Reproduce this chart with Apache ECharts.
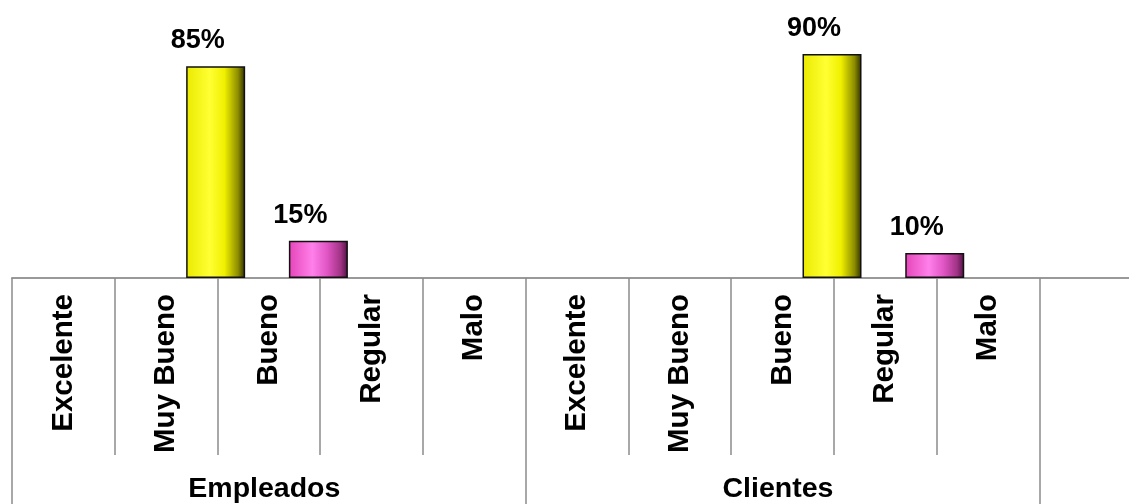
<!DOCTYPE html>
<html>
<head>
<meta charset="utf-8">
<script src="https://cdn.jsdelivr.net/npm/echarts@6/dist/echarts.min.js"></script>
<style>html,body{margin:0;padding:0;background:#fff;overflow:hidden;width:1129px;height:504px;}#c{width:1142px;height:504px;}</style>
</head>
<body>
<div id="c"></div>
<script>
var ratings = ['Excelente', 'Muy Bueno', 'Bueno', 'Regular', 'Malo'];
var groups = ['Empleados', 'Clientes'];
var categories = ratings.concat(ratings).concat(['']);
var yellowValues = [null, 85, null, null, null, null, null, 90, null, null, null];
var pinkValues = [null, null, 15, null, null, null, null, null, 10, null, null];

var groupSlots = categories.map(function (c, i) {
  if (i === 2) return groups[0];
  if (i === 7) return groups[1];
  return '';
});

var yellowGrad = new echarts.graphic.LinearGradient(0, 0, 1, 0, [
  {offset: 0, color: '#eaea00'}, {offset: 0.4, color: '#ffff33'},
  {offset: 0.65, color: '#f0f000'}, {offset: 0.88, color: '#8c8c00'}, {offset: 1, color: '#2e2e00'}
]);
var pinkGrad = new echarts.graphic.LinearGradient(0, 0, 1, 0, [
  {offset: 0, color: '#e545b8'}, {offset: 0.4, color: '#ff80ea'},
  {offset: 0.65, color: '#e055c4'}, {offset: 0.88, color: '#a03384'}, {offset: 1, color: '#4c1042'}
]);

var font = 'Liberation Sans, Arial, sans-serif';
var labelCfg = {
  show: true, position: 'top', distance: 12, offset: [-18, 0],
  fontSize: 27, fontWeight: 'bold', color: '#000', fontFamily: font,
  formatter: function (p) { return p.value + '%'; }
};

var chart = echarts.init(document.getElementById('c'));
chart.setOption({
  animation: false,
  grid: {left: 12, right: 0, top: 29, bottom: 225, containLabel: false},
  xAxis: [{
    type: 'category', data: categories, position: 'bottom',
    axisLine: {show: true, lineStyle: {color: '#999', width: 2}},
    axisTick: {show: true, interval: 0, length: 177, lineStyle: {color: '#8c8c8c', width: 1.5}},
    axisLabel: {interval: 0, rotate: 90, margin: 16, fontSize: 29.5, fontWeight: 'bold', color: '#000', fontFamily: font},
    splitLine: {show: false}
  }, {
    type: 'category', data: groupSlots, position: 'bottom', offset: 0,
    axisLine: {show: false},
    axisTick: {show: true, length: 240, interval: function (i) { return i % 5 === 0; }, lineStyle: {color: '#8c8c8c', width: 1.5}},
    axisLabel: {interval: function (i, v) { return v !== ''; }, margin: 197, padding: [0, 9, 0, 0], fontSize: 28.5, fontWeight: 'bold', color: '#000', fontFamily: font},
    splitLine: {show: false}
  }],
  yAxis: {type: 'value', min: 0, max: 100, show: false, splitLine: {show: false}},
  series: [{
    name: 'placeholder', type: 'bar', xAxisIndex: 0, barWidth: 59, barGap: '68%',
    data: categories.map(function () { return '-'; })
  }, {
    name: 'Amarillo', type: 'bar', xAxisIndex: 0, stack: 'v', barWidth: 59,
    data: yellowValues.map(function (v) { return v == null ? '-' : v; }),
    itemStyle: {color: yellowGrad, borderColor: '#111', borderWidth: 1.5},
    label: labelCfg
  }, {
    name: 'Rosa', type: 'bar', xAxisIndex: 0, stack: 'v', barWidth: 59,
    data: pinkValues.map(function (v) { return v == null ? '-' : v; }),
    itemStyle: {color: pinkGrad, borderColor: '#111', borderWidth: 1.5},
    label: labelCfg
  }]
});
</script>
</body>
</html>
